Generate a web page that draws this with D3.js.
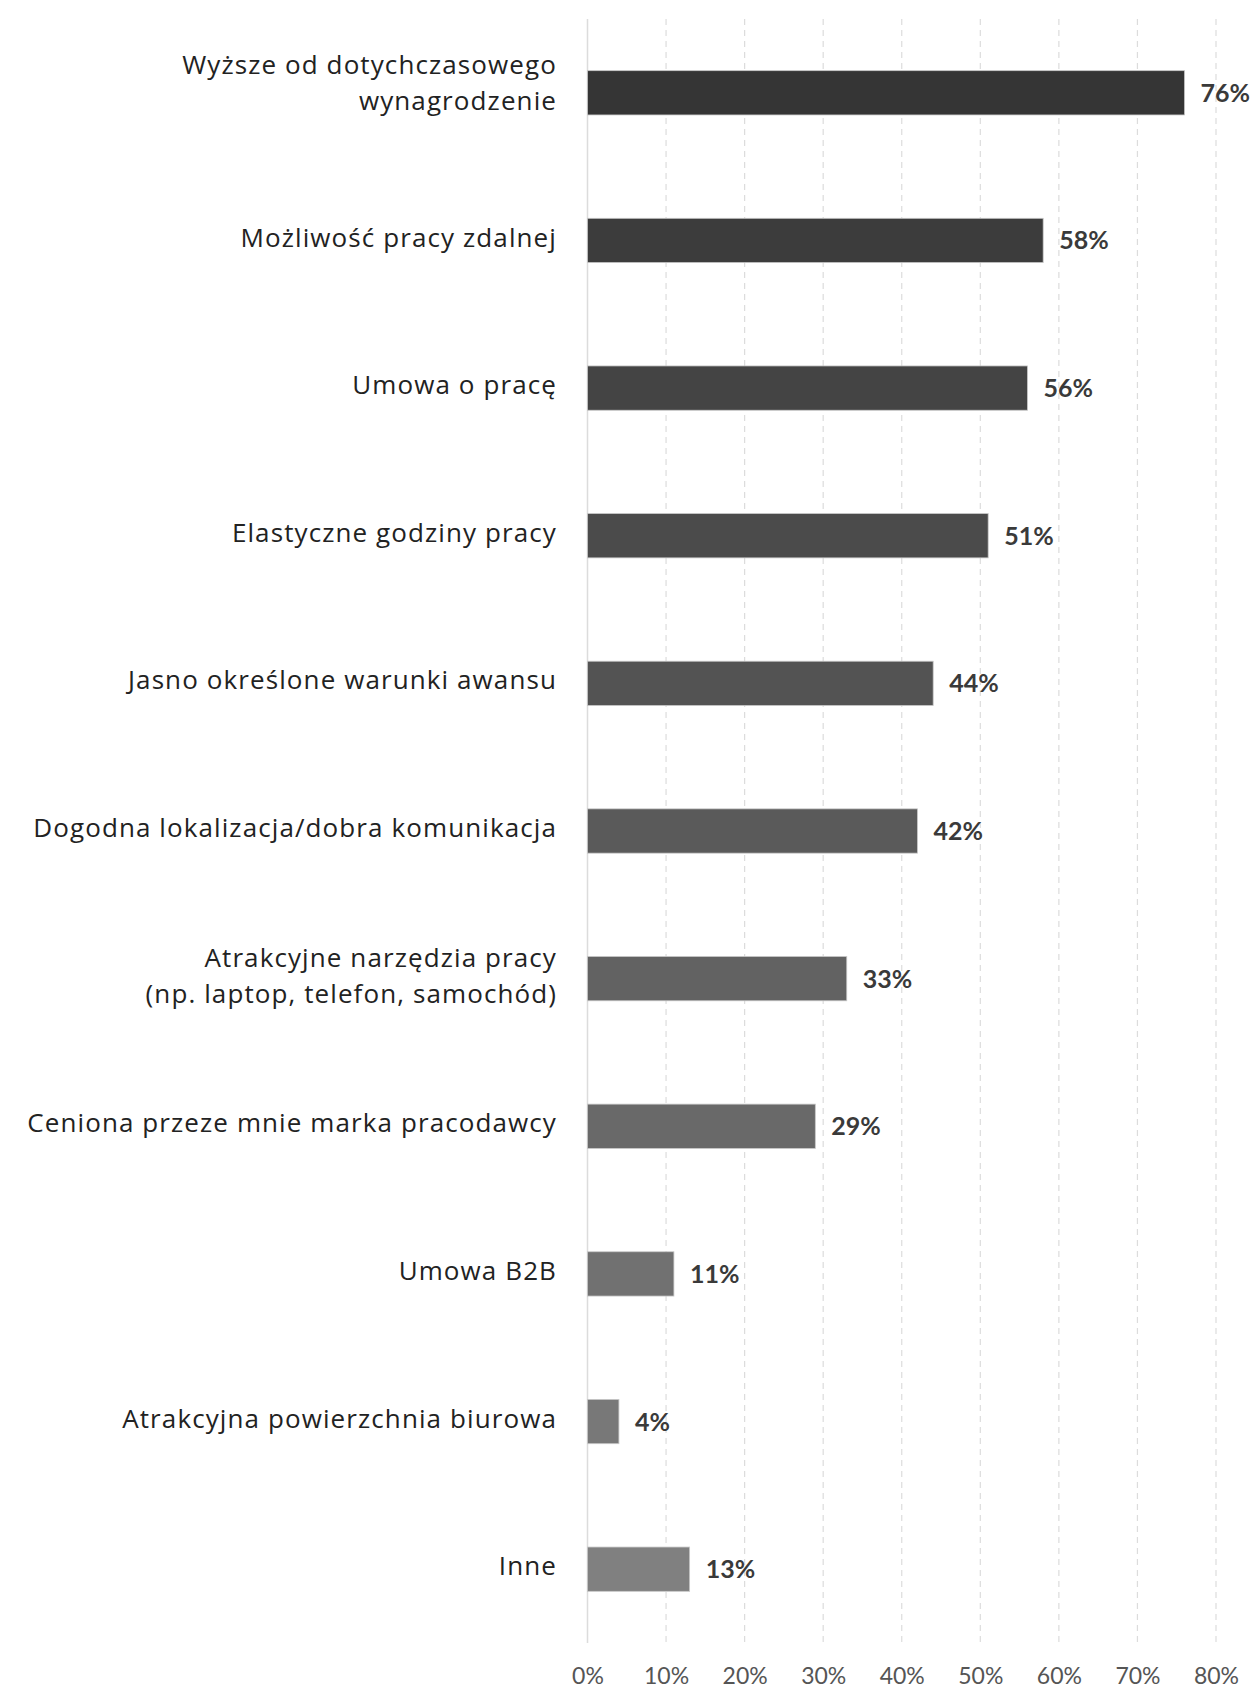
<!DOCTYPE html>
<html><head><meta charset="utf-8">
<script src="https://cdn.jsdelivr.net/npm/d3@7"></script>
<style>
html,body{margin:0;padding:0;background:#fff;}
svg{display:block;}
</style></head>
<body>
<svg id="chart" width="1259" height="1688"></svg>
<script>
const categories = [
  ["Wyższe od dotychczasowego", "wynagrodzenie"],
  ["Możliwość pracy zdalnej"],
  ["Umowa o pracę"],
  ["Elastyczne godziny pracy"],
  ["Jasno określone warunki awansu"],
  ["Dogodna lokalizacja/dobra komunikacja"],
  ["Atrakcyjne narzędzia pracy", "(np. laptop, telefon, samochód)"],
  ["Ceniona przeze mnie marka pracodawcy"],
  ["Umowa B2B"],
  ["Atrakcyjna powierzchnia biurowa"],
  ["Inne"]
];
const values = [76, 58, 56, 51, 44, 42, 33, 29, 11, 4, 13];
const barColors = ["#353535","#3c3c3c","#444444","#4b4b4b","#535353","#5a5a5a","#626262","#696969","#717171","#787878","#808080"];
const tickValues = [0, 10, 20, 30, 40, 50, 60, 70, 80];

const svg = d3.select("#chart");
const font = "Lato, 'Noto Sans', sans-serif";
const labelFont = "'Open Sans', 'Noto Sans', sans-serif";

const x = d3.scaleLinear().domain([0, 80]).range([587.5, 1216]);
const y = d3.scaleBand().domain(d3.range(categories.length)).range([19, 1643])
  .paddingInner(0.7).paddingOuter(0.35);

// gridlines
const grid = svg.append("g");
grid.selectAll("line").data(tickValues).join("line")
  .attr("x1", d => x(d)).attr("x2", d => x(d))
  .attr("y1", 19).attr("y2", 1643)
  .attr("stroke", "#dcdcdc")
  .attr("stroke-width", d => d === 0 ? 1.5 : 1.2)
  .attr("stroke-dasharray", d => d === 0 ? null : "6,5");

// x axis
const xAxis = d3.axisBottom(x).tickValues(tickValues).tickFormat(d => d + "%").tickSize(0).tickPadding(0);
const ax = svg.append("g").attr("transform", "translate(0,1668)").call(xAxis);
ax.select(".domain").remove();
ax.selectAll("text").attr("font-family", font).attr("font-size", 23).attr("fill", "#555").attr("dy", "0.71em");

// bars
svg.append("g").selectAll("rect").data(values).join("rect")
  .attr("x", x(0))
  .attr("y", (d, i) => y(i))
  .attr("width", d => x(d) - x(0))
  .attr("height", y.bandwidth())
  .attr("fill", (d, i) => barColors[i])
  .attr("stroke", "#c8c8c8").attr("stroke-width", 0.8);

// value labels
svg.append("g").selectAll("text").data(values).join("text")
  .attr("x", d => x(d) + 16)
  .attr("y", (d, i) => y(i) + y.bandwidth() / 2)
  .attr("dy", "0.36em")
  .attr("font-family", font).attr("font-size", 25).attr("font-weight", 700)
  .attr("fill", "#3a3a3a")
  .text(d => d + "%");

// category labels
const lh = 36;
const labels = svg.append("g").selectAll("text").data(categories).join("text")
  .attr("x", 557)
  .attr("text-anchor", "end")
  .attr("font-family", labelFont).attr("font-size", 26)
  .attr("letter-spacing", "1.1px")
  .attr("fill", "#222")
  .attr("transform", (d, i) => {
    const c = y(i) + y.bandwidth() / 2 - (i === 0 ? 10 : 3);
    return `translate(0,${c - (d.length - 1) * lh / 2})`;
  });
labels.selectAll("tspan").data(d => d).join("tspan")
  .attr("x", 557)
  .attr("dy", (d, j) => j === 0 ? "0.35em" : lh)
  .text(d => d);
</script>
</body></html>
